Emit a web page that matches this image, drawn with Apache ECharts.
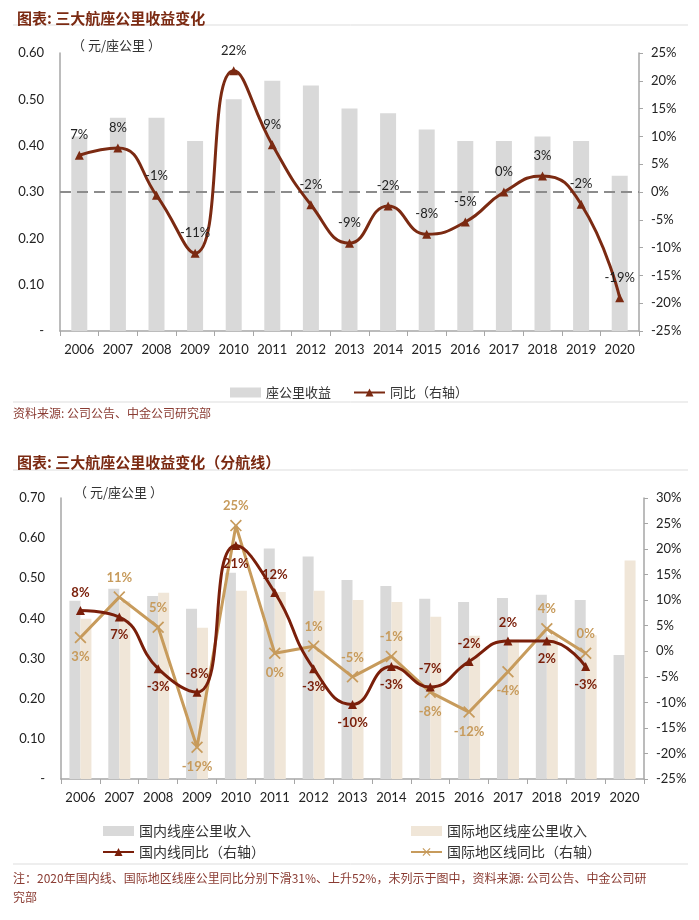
<!DOCTYPE html>
<html>
<head>
<meta charset="utf-8">
<script src="https://cdn.jsdelivr.net/npm/echarts@6/dist/echarts.min.js"></script>
<style>
  html, body { margin: 0; padding: 0; background: #fff; }
  #main { width: 699px; height: 920px; }
</style>
</head>
<body>
<div id="main"></div>
<script>
// ---------- data ----------
var years = ['2006','2007','2008','2009','2010','2011','2012','2013','2014','2015','2016','2017','2018','2019','2020'];

// chart 1: seat-km revenue (元/座公里) and yoy (%)
var seatKmRev = [0.42, 0.46, 0.46, 0.41, 0.50, 0.54, 0.53, 0.48, 0.47, 0.435, 0.41, 0.41, 0.42, 0.41, 0.335];
var seatKmYoy = [6.6, 7.9, -0.6, -11, 21.8, 8.5, -2.3, -9.2, -2.5, -7.6, -5.4, 0, 2.9, -2.2, -19];

// chart 2: by route type
var domRev  = [0.444, 0.474, 0.456, 0.424, 0.514, 0.574, 0.554, 0.496, 0.481, 0.449, 0.441, 0.451, 0.459, 0.446, 0.309];
var intlRev = [0.399, 0.443, 0.464, 0.377, 0.469, 0.466, 0.469, 0.446, 0.441, 0.404, 0.357, 0.347, 0.358, 0.358, 0.544];
var domYoy  = [8.0, 6.7, -3.4, -8, 20.7, 11.5, -3.4, -10.4, -3, -7, -2, 2, 2, -3];
var intlYoy = [2.7, 10.6, 4.7, -18.8, 24.6, -0.4, 1, -5, -1, -8, -11.9, -4, 4.4, -0.4];

// label placement (above / below the point)
var domLabelPos  = ['top','bottom','bottom','top','bottom','top','bottom','bottom','bottom','top','top','top','bottom','bottom'];
var intlLabelPos = ['bottom','top','top','bottom','top','bottom','top','top','top','bottom','bottom','bottom','top','top'];

// ---------- styles ----------
var FONT = "Lato, 'Noto Sans CJK SC', sans-serif";
var CJK = "'Noto Sans CJK SC', sans-serif";
var RED = '#7b2a12';
var DOM = '#7a1f0a';
var INTL = '#c79b5c';
var GREY_BAR = '#d9d9d9';
var BEIGE_BAR = '#f0e6d8';
var AXIS = '#a6a6a6';
var CROSS = 'path://M0,1L1,0L5,4L9,0L10,1L6,5L10,9L9,10L5,6L1,10L0,9L4,5Z';

function pct(v) { return Math.round(v) + '%'; }

function withPos(values, pos) {
  return values.map(function (v, i) {
    return { value: v, label: { position: pos[i] } };
  });
}

function xAxisOf(grid) {
  return {
    type: 'category', gridIndex: grid, data: years, boundaryGap: true,
    axisLine: { lineStyle: { color: AXIS, width: 1.5 } },
    axisTick: { show: true, length: 5, interval: 0, lineStyle: { color: AXIS } },
    axisLabel: { color: '#222', fontSize: 13, margin: 12, interval: 0, fontFamily: FONT }
  };
}

function leftAxis(grid, max) {
  return {
    type: 'value', gridIndex: grid, min: 0, max: max, interval: 0.1,
    axisLine: { show: true, lineStyle: { color: AXIS, width: 1.5 } },
    axisTick: { show: false },
    splitLine: { show: false },
    axisLabel: {
      color: '#222', fontSize: 13, margin: 16, fontFamily: FONT,
      formatter: function (v) { return v === 0 ? '-' : v.toFixed(2); }
    }
  };
}

function rightAxis(grid, min, max) {
  return {
    type: 'value', gridIndex: grid, position: 'right', min: min, max: max, interval: 5,
    axisLine: { show: true, lineStyle: { color: AXIS, width: 1.5 } },
    axisTick: { show: true, length: 4, lineStyle: { color: AXIS } },
    splitLine: { show: false },
    axisLabel: { color: '#222', fontSize: 13, margin: 12, fontFamily: FONT, formatter: '{value}%' }
  };
}

var option = {
  animation: false,
  textStyle: { fontFamily: FONT },
  title: [
    { text: '图表: 三大航座公里收益变化', left: 12, top: 6,
      textStyle: { color: RED, fontSize: 15, fontWeight: 'bold', fontFamily: CJK } },
    { text: '图表: 三大航座公里收益变化（分航线）', left: 12, top: 450,
      textStyle: { color: RED, fontSize: 15, fontWeight: 'bold', fontFamily: CJK } }
  ],
  grid: [
    { left: 60, right: 60, top: 53, height: 278 },
    { left: 61, right: 55, top: 498, height: 281 }
  ],
  xAxis: [xAxisOf(0), xAxisOf(1)],
  yAxis: [
    leftAxis(0, 0.6),
    rightAxis(0, -25, 25),
    leftAxis(1, 0.7),
    rightAxis(1, -25, 30)
  ],
  legend: [
    { left: 225, top: 381, itemGap: 22, itemWidth: 31, itemHeight: 10,
      textStyle: { fontSize: 13, color: '#333', fontFamily: CJK },
      data: [{ name: '座公里收益', icon: 'rect' }, '同比（右轴）'] },
    { left: 97, top: 819, orient: 'vertical', itemGap: 7, itemWidth: 31, itemHeight: 10,
      textStyle: { fontSize: 14, color: '#333', fontFamily: CJK },
      data: [{ name: '国内线座公里收入', icon: 'rect' }, '国内线同比（右轴）'] },
    { left: 405, top: 819, orient: 'vertical', itemGap: 7, itemWidth: 31, itemHeight: 10,
      textStyle: { fontSize: 14, color: '#333', fontFamily: CJK },
      data: [{ name: '国际地区线座公里收入', icon: 'rect' }, '国际地区线同比（右轴）'] }
  ],
  graphic: [
    { type: 'line', silent: true, shape: { x1: 13, y1: 25, x2: 688, y2: 25 }, style: { stroke: '#ddd', lineWidth: 1 } },
    { type: 'line', silent: true, shape: { x1: 13, y1: 402, x2: 688, y2: 402 }, style: { stroke: '#ddd', lineWidth: 1 } },
    { type: 'line', silent: true, shape: { x1: 13, y1: 470, x2: 688, y2: 470 }, style: { stroke: '#ddd', lineWidth: 1 } },
    { type: 'line', silent: true, shape: { x1: 13, y1: 864, x2: 688, y2: 864 }, style: { stroke: '#ddd', lineWidth: 1 } },
    { type: 'text', left: 72, top: 39, style: { text: '（ 元/座公里 ）', fontSize: 13, fill: '#333', fontFamily: CJK } },
    { type: 'text', left: 74, top: 486, style: { text: '（ 元/座公里 ）', fontSize: 13, fill: '#333', fontFamily: CJK } },
    { type: 'text', left: 13, top: 407, style: { text: '资料来源: 公司公告、中金公司研究部', fontSize: 12, fill: '#8a3b32', fontFamily: CJK } },
    { type: 'text', left: 13, top: 869, style: {
        text: '注：2020年国内线、国际地区线座公里同比分别下滑31%、上升52%，未列示于图中，资料来源: 公司公告、中金公司研\n究部',
        fontSize: 12, lineHeight: 19, fill: '#8a3b32', fontFamily: CJK } }
  ],
  series: [
    {
      name: '座公里收益', type: 'bar', xAxisIndex: 0, yAxisIndex: 0,
      barWidth: 16, itemStyle: { color: GREY_BAR }, data: seatKmRev
    },
    {
      name: '同比（右轴）', type: 'line', xAxisIndex: 0, yAxisIndex: 1, smooth: true, z: 5,
      symbol: 'triangle', symbolSize: 9,
      lineStyle: { color: RED, width: 3 }, itemStyle: { color: RED },
      label: { show: true, position: 'top', distance: 9, color: '#222', fontSize: 13, fontFamily: FONT,
        formatter: function (p) { return pct(p.value); } },
      markLine: {
        silent: true, symbol: 'none', z: 3,
        label: { show: false },
        lineStyle: { color: '#8c8c8c', type: [11, 6], width: 2 },
        data: [{ yAxis: 0 }]
      },
      data: seatKmYoy
    },
    {
      name: '国内线座公里收入', type: 'bar', xAxisIndex: 1, yAxisIndex: 2,
      barWidth: 11, barGap: '0%', itemStyle: { color: GREY_BAR }, data: domRev
    },
    {
      name: '国际地区线座公里收入', type: 'bar', xAxisIndex: 1, yAxisIndex: 2,
      barWidth: 11, barGap: '0%', itemStyle: { color: BEIGE_BAR }, data: intlRev
    },
    {
      name: '国内线同比（右轴）', type: 'line', xAxisIndex: 1, yAxisIndex: 3, smooth: true, z: 6,
      symbol: 'triangle', symbolSize: 9,
      lineStyle: { color: DOM, width: 3 }, itemStyle: { color: DOM },
      label: { show: true, distance: 7, color: DOM, fontSize: 13, fontWeight: 'bold', fontFamily: FONT,
        formatter: function (p) { return pct(p.value); } },
      data: withPos(domYoy, domLabelPos)
    },
    {
      name: '国际地区线同比（右轴）', type: 'line', xAxisIndex: 1, yAxisIndex: 3, z: 5,
      symbol: CROSS, symbolSize: 12,
      lineStyle: { color: INTL, width: 3 }, itemStyle: { color: INTL },
      label: { show: true, distance: 7, color: INTL, fontSize: 13, fontWeight: 'bold', fontFamily: FONT,
        formatter: function (p) { return pct(p.value); } },
      data: withPos(intlYoy, intlLabelPos)
    }
  ]
};

echarts.init(document.getElementById('main')).setOption(option);
</script>
</body>
</html>
